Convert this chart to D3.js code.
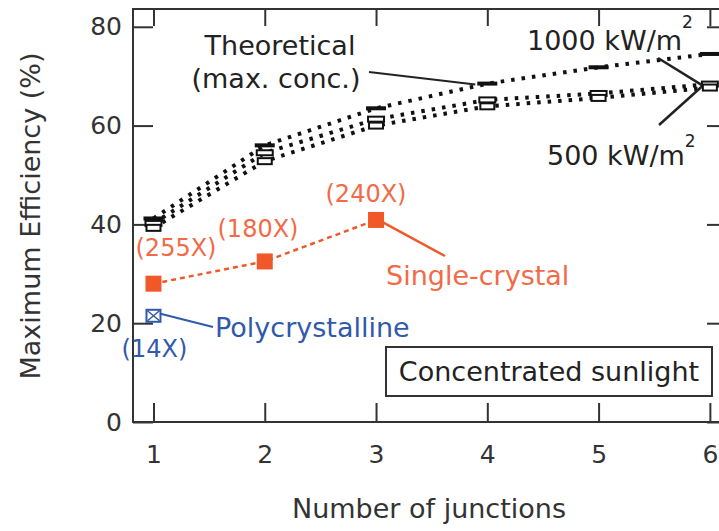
<!DOCTYPE html>
<html>
<head>
<meta charset="utf-8">
<script src="https://cdn.jsdelivr.net/npm/d3@7"></script>
<style>
    body { margin: 0; background: #fff; }
    svg { display: block; font-family: "DejaVu Sans", sans-serif; }
</style>
</head>
<body>
<svg id="chart"></svg>
<script>
    const junctions = [1, 2, 3, 4, 5, 6];
    const maxConc = [41.2, 56.0, 63.5, 68.5, 71.8, 74.5];
    const sun1000 = [40.2, 54.5, 61.3, 65.2, 66.5, 68.4];
    const sun500 = [39.3, 52.8, 60.0, 63.9, 65.6, 67.7];

    const singleJunctions = [1, 2, 3];
    const singleEff = [28.0, 32.5, 40.9];
    const singleConc = ["(255X)", "(180X)", "(240X)"];

    const polyJunctions = [1];
    const polyEff = [21.5];
    const polyConc = ["(14X)"];

    const yTicks = [0, 20, 40, 60, 80];
    const xTicks = [1, 2, 3, 4, 5, 6];

    const svgWidth = 719;
    const svgHeight = 531;
    const orange = "#f0582a";
    const orangeText = "#f26a48";
    const blue = "#3159ab";
    const ink = "#222";
    const bigFont = 27;

    const xScale = d3.scaleLinear().domain([0.816, 6.1]).range([133, 721]);
    const yScale = d3.scaleLinear().domain([0, 83.6]).range([422, 9]);

    const svg = d3.select("#chart")
        .attr("width", svgWidth)
        .attr("height", svgHeight);

    // frame
    svg.append("rect")
        .attr("x", xScale.range()[0])
        .attr("y", yScale.range()[1])
        .attr("width", xScale.range()[1] - xScale.range()[0])
        .attr("height", yScale.range()[0] - yScale.range()[1])
        .attr("fill", "none")
        .attr("stroke", "#333")
        .attr("stroke-width", 2);

    // axes with inward ticks
    const xAxisB = svg.append("g")
        .attr("transform", `translate(0, ${yScale(0)})`)
        .call(d3.axisBottom(xScale).tickValues(xTicks).tickSize(-19).tickFormat(d3.format("d")));
    const xAxisT = svg.append("g")
        .attr("transform", `translate(0, ${yScale.range()[1]})`)
        .call(d3.axisTop(xScale).tickValues(xTicks).tickSize(-17).tickFormat(""));
    const yAxisL = svg.append("g")
        .attr("transform", `translate(${xScale.range()[0]}, 0)`)
        .call(d3.axisLeft(yScale).tickValues(yTicks).tickSize(-20).tickPadding(11));
    const yAxisR = svg.append("g")
        .attr("transform", `translate(${xScale.range()[1]}, 0)`)
        .call(d3.axisRight(yScale).tickValues(yTicks).tickSize(-14).tickFormat(""));

    [xAxisB, xAxisT, yAxisL, yAxisR].forEach(g => {
        g.select(".domain").remove();
        g.selectAll(".tick line").attr("stroke", "#333").attr("stroke-width", 2);
        g.selectAll(".tick text")
            .attr("font-family", "DejaVu Sans, sans-serif")
            .attr("font-size", 25)
            .attr("fill", "#333");
    });

    xAxisB.selectAll(".tick text")
        .attr("y", 41)
        .attr("dy", 0);

    // axis titles
    svg.append("text")
        .attr("x", 429)
        .attr("y", 518)
        .attr("text-anchor", "middle")
        .attr("font-size", bigFont)
        .attr("fill", "#333")
        .text("Number of junctions");

    svg.append("text")
        .attr("transform", "translate(40, 216) rotate(-90)")
        .attr("text-anchor", "middle")
        .attr("font-size", bigFont)
        .attr("fill", "#333")
        .text("Maximum Efficiency (%)");

    // theoretical curves
    const line = d3.line()
        .x((d, i) => xScale(junctions[i]))
        .y(d => yScale(d));

    [sun500, sun1000, maxConc].forEach(series => {
        svg.append("path")
            .attr("d", line(series))
            .attr("fill", "none")
            .attr("stroke", "#111")
            .attr("stroke-width", 4)
            .attr("stroke-dasharray", "3.5,7");
    });

    // markers for theoretical curves
    svg.selectAll(".max-mark")
        .data(maxConc)
        .enter()
        .append("rect")
        .attr("class", "max-mark")
        .attr("x", (d, i) => xScale(junctions[i]) - 10)
        .attr("y", d => yScale(d) - 2)
        .attr("width", 20)
        .attr("height", 4)
        .attr("fill", "#111");

    svg.selectAll(".k1000-mark")
        .data(sun1000)
        .enter()
        .append("rect")
        .attr("class", "k1000-mark")
        .attr("x", (d, i) => xScale(junctions[i]) - 8)
        .attr("y", d => yScale(d) - 2.5)
        .attr("width", 16)
        .attr("height", 5)
        .attr("fill", "#fff")
        .attr("stroke", "#111")
        .attr("stroke-width", 2);

    svg.selectAll(".k500-mark")
        .data(sun500)
        .enter()
        .append("rect")
        .attr("class", "k500-mark")
        .attr("x", (d, i) => xScale(junctions[i]) - 7)
        .attr("y", d => yScale(d) - 3)
        .attr("width", 14)
        .attr("height", 6)
        .attr("fill", "#fff")
        .attr("stroke", "#111")
        .attr("stroke-width", 2);

    // single-crystal
    const singleLine = d3.line()
        .x((d, i) => xScale(singleJunctions[i]))
        .y(d => yScale(d));

    svg.append("path")
        .attr("d", singleLine(singleEff))
        .attr("fill", "none")
        .attr("stroke", orange)
        .attr("stroke-width", 2.5)
        .attr("stroke-dasharray", "5,4");

    svg.selectAll(".single-mark")
        .data(singleEff)
        .enter()
        .append("rect")
        .attr("class", "single-mark")
        .attr("x", (d, i) => xScale(singleJunctions[i]) - 8)
        .attr("y", d => yScale(d) - 8)
        .attr("width", 16)
        .attr("height", 16)
        .attr("fill", orange);

    const singleLabelPos = [[176, 256], [258, 237], [366, 202]];
    svg.selectAll(".single-label")
        .data(singleConc)
        .enter()
        .append("text")
        .attr("class", "single-label")
        .attr("x", (d, i) => singleLabelPos[i][0])
        .attr("y", (d, i) => singleLabelPos[i][1])
        .attr("text-anchor", "middle")
        .attr("font-size", 24)
        .attr("fill", orangeText)
        .text(d => d);

    // polycrystalline
    svg.selectAll(".poly-mark")
        .data(polyEff)
        .enter()
        .append("rect")
        .attr("class", "poly-mark")
        .attr("x", (d, i) => xScale(polyJunctions[i]) - 7)
        .attr("y", d => yScale(d) - 6)
        .attr("width", 14)
        .attr("height", 12)
        .attr("fill", "#fff")
        .attr("stroke", blue)
        .attr("stroke-width", 2);

    polyEff.forEach((d, i) => {
        const cx = xScale(polyJunctions[i]);
        const cy = yScale(d);
        svg.append("path")
            .attr("d", `M${cx - 6},${cy - 5}L${cx + 6},${cy + 5}M${cx + 6},${cy - 5}L${cx - 6},${cy + 5}`)
            .attr("stroke", blue)
            .attr("stroke-width", 1.5);
        svg.append("line")
            .attr("x1", cx + 7).attr("y1", cy - 2)
            .attr("x2", 213).attr("y2", 327)
            .attr("stroke", blue)
            .attr("stroke-width", 2);
        svg.append("text")
            .attr("x", cx + 1)
            .attr("y", 357)
            .attr("text-anchor", "middle")
            .attr("font-size", 24)
            .attr("fill", blue)
            .text(polyConc[i]);
    });

    svg.append("text")
        .attr("x", 215)
        .attr("y", 337)
        .attr("font-size", bigFont)
        .attr("fill", blue)
        .text("Polycrystalline");

    // single-crystal annotation
    svg.append("line")
        .attr("x1", xScale(3) + 6).attr("y1", yScale(singleEff[2]) + 2)
        .attr("x2", 445).attr("y2", 256)
        .attr("stroke", orange)
        .attr("stroke-width", 2.5);

    svg.append("text")
        .attr("x", 386)
        .attr("y", 285)
        .attr("font-size", bigFont)
        .attr("fill", orangeText)
        .text("Single-crystal");

    // theoretical annotation
    svg.append("text")
        .attr("x", 280)
        .attr("y", 55)
        .attr("text-anchor", "middle")
        .attr("font-size", bigFont)
        .attr("fill", ink)
        .text("Theoretical");
    svg.append("text")
        .attr("x", 276)
        .attr("y", 88)
        .attr("text-anchor", "middle")
        .attr("font-size", bigFont)
        .attr("fill", ink)
        .text("(max. conc.)");
    svg.append("line")
        .attr("x1", 369).attr("y1", 72)
        .attr("x2", xScale(4) - 12).attr("y2", yScale(maxConc[3]) + 1)
        .attr("stroke", ink)
        .attr("stroke-width", 2);

    // irradiance annotations
    const k1000 = svg.append("text")
        .attr("x", 527)
        .attr("y", 50)
        .attr("font-size", bigFont)
        .attr("fill", ink)
        .text("1000 kW/m");
    k1000.append("tspan").attr("font-size", 17).attr("dy", -22).text("2");

    const k500 = svg.append("text")
        .attr("x", 547)
        .attr("y", 165)
        .attr("font-size", bigFont)
        .attr("fill", ink)
        .text("500 kW/m");
    k500.append("tspan").attr("font-size", 17).attr("dy", -18).text("2");

    svg.append("line")
        .attr("x1", 658).attr("y1", 58)
        .attr("x2", xScale(6) - 8).attr("y2", yScale(sun1000[5]) + 1)
        .attr("stroke", ink)
        .attr("stroke-width", 2.5);
    svg.append("line")
        .attr("x1", 659).attr("y1", 125)
        .attr("x2", xScale(6) - 8).attr("y2", yScale(sun500[5]) - 1)
        .attr("stroke", ink)
        .attr("stroke-width", 2.5);

    // concentrated sunlight box
    svg.append("rect")
        .attr("x", 386)
        .attr("y", 347)
        .attr("width", 326)
        .attr("height", 49)
        .attr("fill", "#fff")
        .attr("stroke", "#333")
        .attr("stroke-width", 2);
    svg.append("text")
        .attr("x", 549)
        .attr("y", 381)
        .attr("text-anchor", "middle")
        .attr("font-size", bigFont)
        .attr("fill", ink)
        .text("Concentrated sunlight");
</script>
</body>
</html>
